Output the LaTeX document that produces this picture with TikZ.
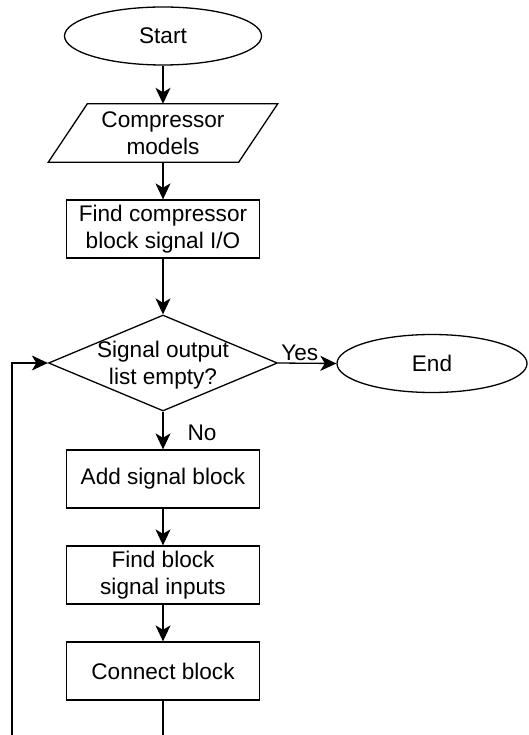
\documentclass[tikz,border=0pt]{standalone}
\usepackage{fontspec}
\setmainfont{Liberation Sans}
\usetikzlibrary{arrows.meta,shapes.geometric}
\newcommand{\chartfont}{\fontsize{22.6}{26.7}\selectfont}

\begin{document}
\begin{tikzpicture}[x=1pt,y=-1pt]
\tikzset{terminal/.style = {shape=ellipse,draw,line width=1.3pt,minimum width=197pt,minimum height=58pt,font=\chartfont}}
\tikzset{process/.style = {shape=rectangle,draw,line width=1.3pt,minimum width=193pt,minimum height=58pt,align=center,font=\chartfont}}
\tikzset{iobox/.style = {shape=rectangle,minimum width=190pt,minimum height=58pt,align=center,font=\chartfont}}
\tikzset{decision/.style = {shape=diamond,draw,line width=1.3pt,minimum width=229pt,minimum height=96pt,inner sep=0pt}}
\tikzset{lbl/.style = {font=\chartfont,inner sep=2pt}}
\tikzset{wire/.style = {line width=1.3pt}}
\tikzset{edge/.style = {wire,-{Stealth[length=16pt,width=15pt,inset=4.5pt]}}}
\useasboundingbox (0,0) rectangle (529,735);
%nodes
\node[terminal] (start) at (163,36) {Start};
\node[iobox] (models) at (163,133) {Compressor\\models};
\draw[wire] ([xshift=19.5pt]models.north west) -- ([xshift=19.5pt]models.north east)
  -- ([xshift=-19.5pt]models.south east) -- ([xshift=-19.5pt]models.south west) -- cycle;
\node[process] (findio) at (163,229) {Find compressor\\block signal I/O};
\node[decision] (check) at (163,363) {};
\node[lbl,align=center] (checktext) at (163,365) {Signal output\\list empty?};
\node[terminal,minimum width=190pt] (finish) at (432,363.5) {End};
\node[process] (add) at (163,479) {Add signal block};
\node[process] (inputs) at (163,575) {Find block\\signal inputs};
\node[process] (connect) at (163,671) {Connect block};
\coordinate (loopr) at (163,735);
\coordinate (loopl) at (12,735);

%edges
\draw[edge] (start) -- (models);
\draw[edge] (models) -- (findio);
\draw[edge] (findio) -- (check);
\draw[edge] (check.east) -- node[lbl,above,pos=0.37] {Yes} (finish.west);
\draw[edge] (check.south) -- node[lbl,anchor=west,xshift=22pt,pos=0.55] {No} (add);
\draw[edge] (add) -- (inputs);
\draw[edge] (inputs) -- (connect);
\draw[wire] (connect) -- (loopr);
\draw[edge] (loopl) |- (check.west);
\end{tikzpicture}
\end{document}
